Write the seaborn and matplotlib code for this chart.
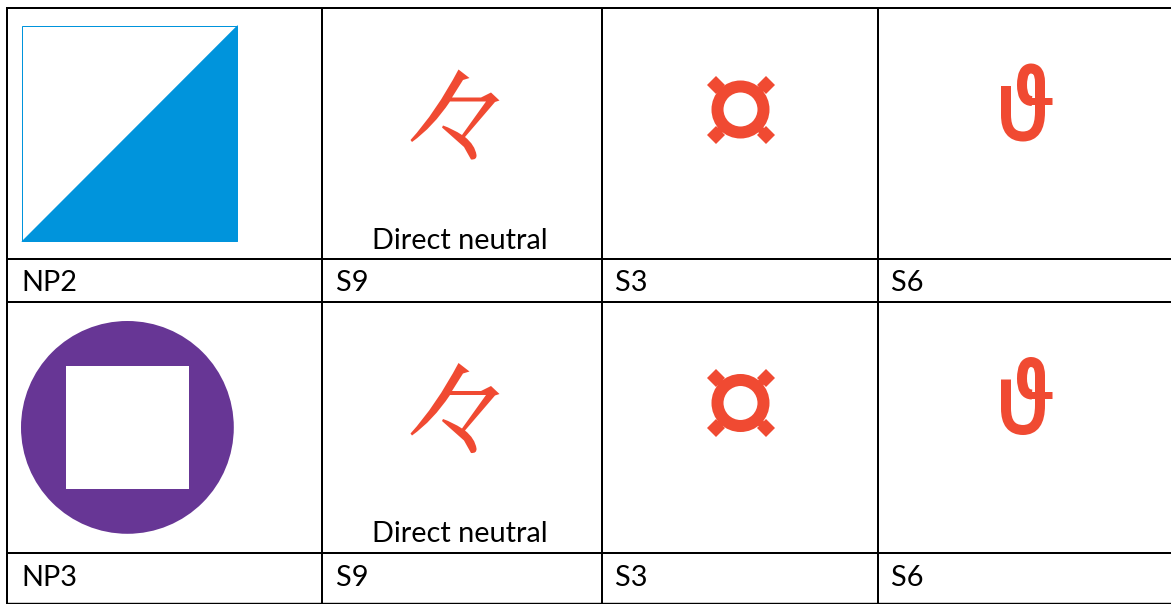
import matplotlib
matplotlib.use("Agg")
import matplotlib.pyplot as plt
import numpy as np
import seaborn as sns
from matplotlib.path import Path
from matplotlib.patches import PathPatch, Polygon, Circle, Rectangle

sns.set_theme(style="white")
plt.rcParams["font.family"] = ["Lato", "DejaVu Sans"]

# table content
row_names = ["NP2", "NP3"]
col_labels = ["S9", "S3", "S6"]
cell_note = "Direct neutral"

BLUE = "#0094dc"
PURPLE = "#673695"
RED = "#f04a32"
PX = 0.72  # one pixel in points at dpi 100

# grid lines, in pixels of the picture
col_edges = [7, 322, 602, 878]
row_edges = [8, 258.5, 301.5, 552.5, 603]
label_x = [21.5, 336, 615, 891]
label_base = [291, 586]
note_base = [249, 542]
row_shift = [0, 293.5]

fig, ax = plt.subplots(figsize=(11.71, 6.04), dpi=100)
ax.set_position([0, 0, 1, 1])
ax.set_xlim(0, 1171)
ax.set_ylim(604, 0)
ax.axis("off")

ax.vlines(col_edges, row_edges[0] - 1, 604, color="black", lw=2 * PX)
ax.hlines(row_edges[:-1], col_edges[0] - 1, 1171, color="black", lw=2 * PX)
ax.hlines(row_edges[-1], col_edges[0] - 1, 1171, color="black", lw=1.4 * PX)


def curved(verts, codes, dy, **kw):
    pts = [(x, y + dy) for x, y in verts]
    ax.add_patch(PathPatch(Path(pts, codes), **kw))


def draw_noma(dy):
    # main stroke + bar + right stroke + tail of the repeat sign
    M, L, C = Path.MOVETO, Path.LINETO, Path.CURVE3
    curved(
        [(458.5, 69.5), (469.5, 78), (463, 80), (452, 97.5), (481, 97.5), (491, 92.5),
         (499.5, 100.5), (495, 102), (465, 137), (475, 145), (476.5, 155), (477, 160), (471, 159.5),
         (464, 147), (442, 127.5), (443, 125.5), (453, 129), (462, 135), (486, 101.5), (450, 101.5),
         (433, 127), (412, 142), (410.5, 140), (436, 112), (458.5, 69.5)],
        [M, L, L, L, L, L,
         L, L, L, C, C, C, L,
         L, L, L, C, C, L, L,
         C, C, L, C, C],
        dy, fc=RED, ec="none",
    )


def draw_ring(dy):
    cx, cy = 740.5, 109.5 + dy
    ax.add_patch(Circle((cx, cy), 23, fc="none", ec=RED, lw=12 * PX))
    for sx in (-1, 1):
        for sy in (-1, 1):
            ax.plot([cx + sx * 14, cx + sx * 25], [cy + sy * 14, cy + sy * 25],
                    color=RED, lw=7 * PX, solid_capstyle="butt")
            ax.plot(cx + sx * 25, cy + sy * 25, marker="D", ms=13 * PX,
                    mfc=RED, mec=RED, mew=0)


def draw_hook(dy):
    M, L, C = Path.MOVETO, Path.LINETO, Path.CURVE3
    curved(
        [(1006, 86), (1006, 115), (1006, 136.5), (1023, 136.5),
         (1040, 136.5), (1040, 112), (1040, 82), (1040, 68.5), (1031, 68.5),
         (1022, 68.5), (1022, 85), (1022, 101), (1032, 101)],
        [M, L, C, C, C, C, L, C, C, C, C, C, C],
        dy, fc="none", ec=RED, lw=10 * PX, capstyle="butt", joinstyle="round",
    )
    ax.plot([1030, 1052], [101.3 + dy, 101.3 + dy], color=RED, lw=7 * PX, solid_capstyle="butt")


# first row picture: half filled square
ax.add_patch(Rectangle((21.5, 25.5), 215, 215, fc="white", ec=BLUE, lw=1 * PX))
ax.add_patch(Polygon([(21.3, 241.7), (237.7, 25), (237.7, 241.7)], fc=BLUE, ec="none"))

# second row picture: circle with the square cut out
ax.add_patch(Circle((127.4, 427.4), 106.4, fc=PURPLE, ec="none"))
ax.add_patch(Rectangle((65.7, 365.7), 123.6, 123.6, fc="white", ec="none"))

for i, name in enumerate(row_names):
    dy = row_shift[i]
    draw_noma(dy)
    draw_ring(dy)
    draw_hook(dy)
    ax.text(label_x[0], label_base[i], name, fontsize=20.8, color="black", va="baseline")
    for x, lab in zip(label_x[1:], col_labels):
        ax.text(x, label_base[i], lab, fontsize=20.8, color="black", va="baseline")
    ax.text(372.5, note_base[i], cell_note, fontsize=20.8, color="black", va="baseline")

fig.savefig("out.png", dpi=100, facecolor="white")
